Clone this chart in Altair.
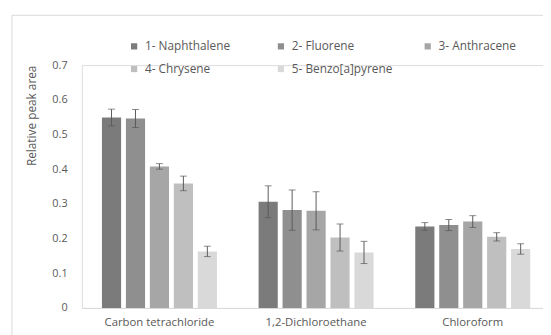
import altair as alt
import pandas as pd

solvents = ["Carbon tetrachloride", "1,2-Dichloroethane", "Chloroform"]
compounds = ["1- Naphthalene", "2- Fluorene", "3- Anthracene", "4- Chrysene", "5- Benzo[a]pyrene"]
colors = ["#7b7b7b", "#8f8f8f", "#a6a6a6", "#bfbfbf", "#d9d9d9"]
y_ticks = [0, 0.1, 0.2, 0.3, 0.4, 0.5, 0.6, 0.7]

# values per solvent, in compound order
means_ccl4 = [0.549, 0.546, 0.408, 0.359, 0.163]
means_dce = [0.306, 0.282, 0.280, 0.203, 0.160]
means_chcl3 = [0.235, 0.239, 0.249, 0.205, 0.170]
err_ccl4 = [0.024, 0.026, 0.008, 0.021, 0.015]
err_dce = [0.046, 0.058, 0.055, 0.039, 0.032]
err_chcl3 = [0.011, 0.016, 0.017, 0.012, 0.015]

rows = []
for s, ms, es in zip(solvents, [means_ccl4, means_dce, means_chcl3], [err_ccl4, err_dce, err_chcl3]):
    for c, m, e in zip(compounds, ms, es):
        rows.append({"solvent": s, "compound": c, "value": m, "lo": m - e, "hi": m + e})
df = pd.DataFrame(rows)

FONT = "Open Sans"
TXT = "#595959"

xaxis = alt.Axis(title=None, labelAngle=0, ticks=False, labelPadding=9,
                 domainColor="#d9d9d9", labelFontSize=11.5, labelColor=TXT, labelFont=FONT)
xscale = alt.Scale(paddingInner=0.266, paddingOuter=0.128, range=[0, 475.4])
yaxis = alt.Axis(values=y_ticks,
                 labelExpr="datum.value == 0 ? '0' : format(datum.value, '.1f')",
                 labelOverlap=False, labelBound=False, labelFlush=False,
                 domain=False, ticks=False, grid=False, labelPadding=15,
                 labelFontSize=11, labelColor=TXT, labelFont=FONT,
                 title="Relative peak area", titleFontSize=12, titleFontWeight="normal",
                 titleColor=TXT, titleFont=FONT, titleX=-51, titleY=51,
                 titleAngle=-90, titleAlign="center", titleBaseline="middle")
yscale = alt.Scale(domain=[0, 0.7], nice=False)

xenc = alt.X("solvent:N", sort=solvents, scale=xscale, axis=xaxis)
xoff = alt.XOffset("compound:N", sort=compounds, scale=alt.Scale(paddingInner=0.2, paddingOuter=0))

base = alt.Chart(df)

bars = base.mark_bar().encode(
    x=xenc,
    xOffset=xoff,
    y=alt.Y("value:Q", scale=yscale, axis=yaxis),
    color=alt.Color("compound:N", sort=compounds,
                    scale=alt.Scale(domain=compounds, range=colors),
                    legend=alt.Legend(title=None, orient="none", legendX=47, legendY=-25,
                                      direction="horizontal",
                                      columns=3, columnPadding=29, rowPadding=11, gridAlign="all",
                                      symbolType="square", symbolSize=40, symbolStrokeWidth=0,
                                      labelOffset=5, labelFontSize=12, labelColor=TXT,
                                      labelFont=FONT)),
)

rules = base.mark_rule(color="#595959", strokeWidth=1).encode(
    x=xenc, xOffset=xoff,
    y=alt.Y("lo:Q", scale=yscale, axis=yaxis), y2="hi:Q")
caps_hi = base.mark_tick(color="#595959", thickness=1, size=7).encode(
    x=xenc, xOffset=xoff, y=alt.Y("hi:Q", scale=yscale, axis=yaxis))
caps_lo = base.mark_tick(color="#595959", thickness=1, size=7).encode(
    x=xenc, xOffset=xoff, y=alt.Y("lo:Q", scale=yscale, axis=yaxis))

frame = alt.Chart(pd.DataFrame({"f": [0]})).mark_rect(
    fill=None, stroke="#d9d9d9", strokeWidth=1).encode(
    x=alt.value(-71), x2=alt.value(700), y=alt.value(-50.5), y2=alt.value(500))

chart = alt.layer(frame, bars, rules, caps_hi, caps_lo).properties(
    width=468, height=246.5,
    autosize=alt.AutoSizeParams(type="none"),
    padding={"left": 75, "top": 55.5, "right": 0, "bottom": 25},
).configure_view(stroke=None).configure(background="white")

chart.save("out.html", embed_options={"renderer": "svg", "actions": False})
